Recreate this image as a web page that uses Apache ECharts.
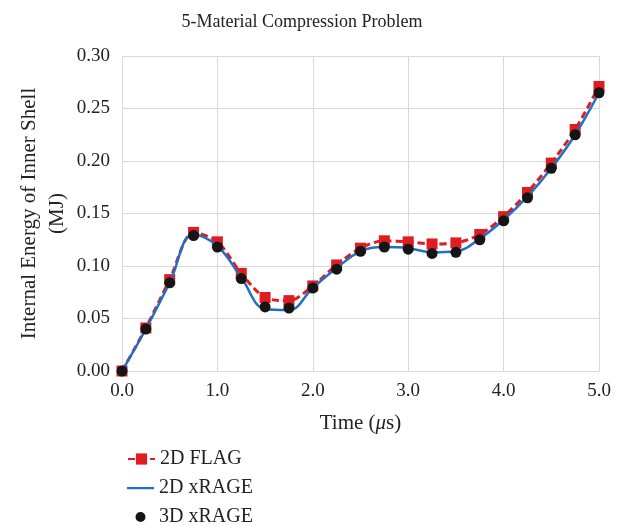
<!DOCTYPE html>
<html><head><meta charset="utf-8">
<script src="https://cdn.jsdelivr.net/npm/echarts@6/dist/echarts.min.js"></script>
<style>html,body{margin:0;padding:0;background:#fff}#c{width:623px;height:526px}</style>
</head><body><div id="c"></div>
<script>
const times = [0,0.25,0.5,0.75,1.0,1.25,1.5,1.75,2.0,2.25,2.5,2.75,3.0,3.25,3.5,3.75,4.0,4.25,4.5,4.75,5.0];
const flag2d = [0,0.041,0.087,0.132,0.123,0.093,0.070,0.067,0.081,0.101,0.117,0.124,0.123,0.121,0.122,0.130,0.147,0.170,0.198,0.230,0.271];
const xrage2d = [0,0.040,0.084,0.130,0.119,0.089,0.059,0.058,0.079,0.098,0.114,0.118,0.117,0.113,0.114,0.126,0.144,0.166,0.193,0.225,0.265];
const xrage3d = [0,0.040,0.084,0.129,0.118,0.088,0.061,0.060,0.079,0.097,0.114,0.118,0.116,0.112,0.113,0.125,0.143,0.165,0.193,0.225,0.265];
const xTicks = [0,1,2,3,4,5];
const yTicks = [0,0.05,0.10,0.15,0.20,0.25,0.30];
const pair = a => times.map((t,i)=>[t,a[i]]);
const FONT = 'Liberation Serif';
const TXT = '#222';
const legendText = {fontFamily:FONT,fontSize:20,color:TXT};
const chart = echarts.init(document.getElementById('c'));
chart.setOption({
  animation:false,
  textStyle:{fontFamily:FONT},
  title:{text:'5-Material Compression Problem',left:297,top:8,textAlign:'center',
    textStyle:{fontFamily:FONT,fontSize:18,fontWeight:'normal',color:TXT}},
  grid:{left:122,right:24,top:56,bottom:155},
  xAxis:{type:'value',min:xTicks[0],max:xTicks[xTicks.length-1],interval:1,
    name:'{n|Time (}{i|μ}{n|s)}',nameLocation:'middle',nameGap:42,nameMoveOverlap:false,
    nameTextStyle:{rich:{n:{fontFamily:FONT,fontSize:21,color:TXT},i:{fontFamily:FONT,fontSize:21,fontStyle:'italic',color:TXT}}},
    axisLine:{lineStyle:{color:'#d9d9d9'}},axisTick:{show:false},
    axisLabel:{formatter:v=>v.toFixed(1),fontFamily:FONT,fontSize:19,color:TXT,margin:11},
    splitLine:{lineStyle:{color:'#d9d9d9'}}},
  yAxis:{type:'value',min:yTicks[0],max:yTicks[yTicks.length-1],interval:0.05,
    name:'Internal Energy of Inner Shell\n(MJ)',nameLocation:'middle',nameGap:51,nameMoveOverlap:false,
    nameTextStyle:{fontFamily:FONT,fontSize:21,color:TXT,lineHeight:28},
    axisLine:{show:false},axisTick:{show:false},
    axisLabel:{formatter:v=>v.toFixed(2),fontFamily:FONT,fontSize:19,color:TXT,margin:12},
    splitLine:{lineStyle:{color:'#d9d9d9'}}},
  legend:[
    {left:122,top:444,itemWidth:27,itemHeight:14,textStyle:legendText,data:[{name:'2D FLAG'}]},
    {left:122,top:473,itemWidth:27,itemHeight:14,textStyle:legendText,
      data:[{name:'2D xRAGE',icon:'path://M0,0 L0.01,0 L0.01,0.01 Z M27,14 L27.01,14 L27.01,13.99 Z M0,6 L27,6 L27,8.2 L0,8.2 Z'}]},
    {left:122,top:502,itemWidth:27,itemHeight:14,textStyle:legendText,
      data:[{name:'3D xRAGE',icon:'path://M0,0 L0.01,0 L0.01,0.01 Z M27,14 L27.01,14 L27.01,13.99 Z M8.5,7 A5,5 0 1,1 18.5,7 A5,5 0 1,1 8.5,7 Z'}]}
  ],
  series:[
    {name:'2D FLAG',type:'line',data:pair(flag2d),smooth:0.3,symbol:'rect',symbolSize:11,
      lineStyle:{color:'#e01b22',width:3,type:[7,4]},itemStyle:{color:'#e01b22'},z:2},
    {name:'2D xRAGE',type:'line',data:pair(xrage2d),smooth:0.4,symbol:'none',
      lineStyle:{color:'#2170c4',width:2.5},itemStyle:{color:'#2170c4'},z:3},
    {name:'3D xRAGE',type:'scatter',data:pair(xrage3d),symbol:'circle',symbolSize:11,
      itemStyle:{color:'#151515',opacity:1},z:4}
  ]
});
</script></body></html>
